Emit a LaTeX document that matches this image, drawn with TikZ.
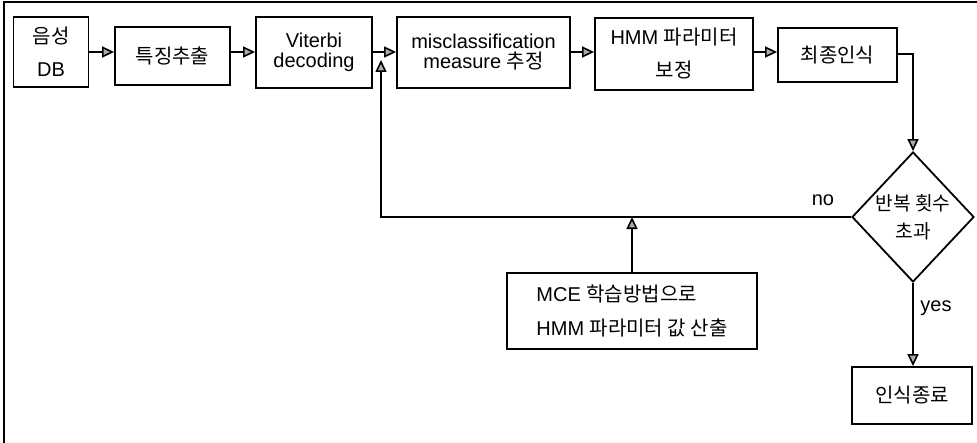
\documentclass[tikz,border=0pt]{standalone}
\usepackage{fontspec}
\setmainfont{Liberation Sans}
\newfontfamily\krfont{Noto Sans CJK KR}
\newcommand{\kor}[1]{{\krfont #1}}
\usetikzlibrary{arrows.meta,shapes.geometric}

\tikzset{
	box/.style={draw, line width=0.9pt, align=center, inner sep=1pt, font=\fontsize{10}{12}\selectfont},
	dia/.style={draw, shape=diamond, line width=0.9pt, align=center, inner sep=-3pt, minimum width=61pt, minimum height=65pt, font=\fontsize{9.6}{12}\selectfont},
	arr/.style={line width=0.8pt, -{Triangle[length=6pt,width=5.5pt,fill=gray!65]}},
	lbl/.style={font=\fontsize{10}{12}\selectfont}
}

\begin{document}
\begin{tikzpicture}[x=0.5pt,y=-0.5pt]

	\useasboundingbox (0,0) rectangle (977,443);
	\draw [line width=0.6pt] (4,443) -- (4,2) -- (977,2);

	\node [box, minimum width=37.5pt, minimum height=35pt] (db) at (51,52) {\kor{음성}\\[4.5pt]DB};
	\node [box, minimum width=57.5pt, minimum height=29pt] (feat) at (172.5,56) {\kor{특징추출}};
	\node [box, minimum width=58pt, minimum height=35.5pt] (vit) at (314,52.5) {Viterbi\\[-2pt]decoding};
	\node [box, minimum width=86.5pt, minimum height=35.5pt] (mis) at (483.5,52.5) {misclassification\\[-2pt]measure \kor{추정}};
	\node [box, minimum width=79pt, minimum height=36pt] (hmm) at (674,54) {HMM \kor{파라미터}\\[4.5pt]\kor{보정}};
	\node [box, minimum width=59.5pt, minimum height=27pt] (fin) at (837.5,55) {\kor{최종인식}};
	\node [dia] (dec) at (913,217) {\kor{반복 횟수}\\[2pt]\kor{초과}};
	\node [box, minimum width=125pt, minimum height=38pt, align=left] (mce) at (632,311) {MCE \kor{학습방법으로}\\[5pt]HMM \kor{파라미터 값 산출}};
	\node [box, minimum width=60pt, minimum height=28.5pt] (end) at (912,395.5) {\kor{인식종료}};
	\coordinate (join) at (381,60);

	\draw [arr] (db.east |- 0,52) -- (feat.west |- 0,52);
	\draw [arr] (feat.east |- 0,52) -- (vit.west |- 0,52);
	\draw [arr] (vit.east |- 0,52) -- (mis.west |- 0,52);
	\draw [arr] (mis.east |- 0,52) -- (hmm.west |- 0,52);
	\draw [arr] (hmm.east |- 0,52) -- (fin.west |- 0,52);
	\draw [arr] (fin.east |- 0,54) -| (dec.north);
	\draw [arr] (dec.west) -| node [lbl, pos=0.03, above=2pt] {no} (join);
	\draw [arr] (mce.north) -- (mce.north |- dec.west);
	\draw [arr] (dec.south) -- node [lbl, pos=0.3, right] {yes} (dec.south |- end.north);

\end{tikzpicture}
\end{document}
